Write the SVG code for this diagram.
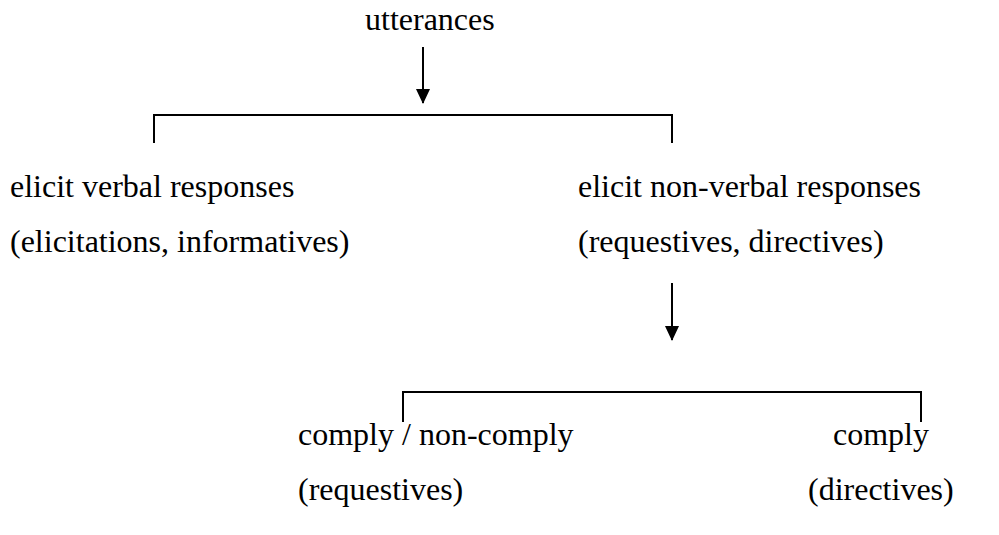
<svg xmlns="http://www.w3.org/2000/svg" width="999" height="535" viewBox="0 0 999 535">
<style>
.t{font-family:"Liberation Serif","Times New Roman",serif;font-size:32px;fill:#000}
.ln{stroke:#000;stroke-width:2;fill:none}
</style>
<defs>
<marker id="ah" markerUnits="userSpaceOnUse" markerWidth="15" markerHeight="14" refX="14" refY="7" orient="auto" viewBox="0 0 15 14">
<path d="M0,0 L15,7 L0,14 Z" fill="#000"/>
</marker>
</defs>
<rect width="999" height="535" fill="#fff"/>
<g id="connectors">
<line class="ln" x1="423" y1="47" x2="423" y2="103" marker-end="url(#ah)"/>
<path class="ln" d="M154,143 V115 H672 V143"/>
<line class="ln" x1="672" y1="283" x2="672" y2="340" marker-end="url(#ah)"/>
<path class="ln" d="M403,422 V392 H921 V422"/>
</g>
<g id="utterances"><text class="t" x="365" y="30">utterances</text></g>
<g id="verbal"><text class="t" x="10" y="197">elicit verbal responses</text><text class="t" x="10" y="252">(elicitations, informatives)</text></g>
<g id="nonverbal"><text class="t" x="578" y="197">elicit non-verbal responses</text><text class="t" x="578" y="252">(requestives, directives)</text></g>
<g id="comply-noncomply"><text class="t" x="298" y="445">comply / non-comply</text><text class="t" x="298" y="500">(requestives)</text></g>
<g id="comply"><text class="t" x="833" y="445">comply</text><text class="t" x="808" y="500">(directives)</text></g>
</svg>
